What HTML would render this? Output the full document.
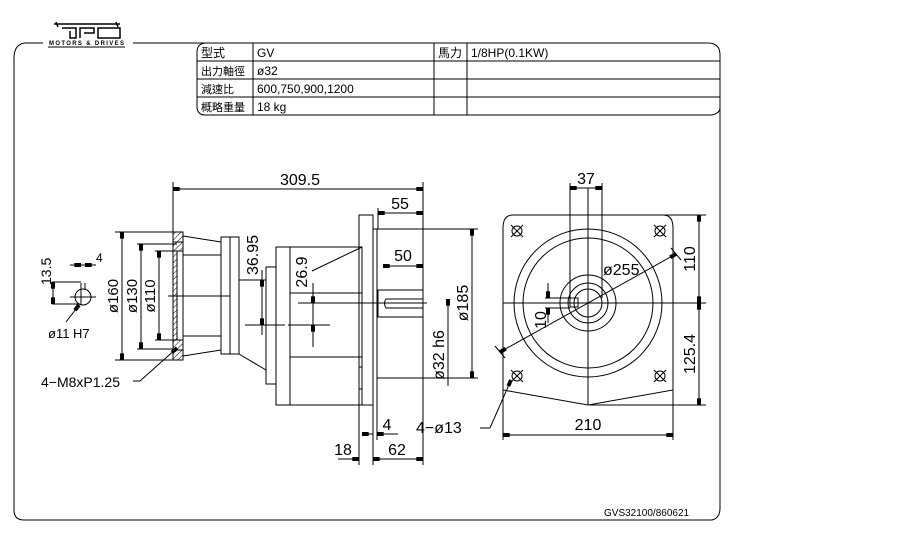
<!DOCTYPE html>
<html><head><meta charset="utf-8"><style>
html,body{margin:0;padding:0;background:#fff;}
svg{display:block}
text{font-family:"Liberation Sans","Noto Sans CJK TC",sans-serif;fill:#000}
</style></head><body>
<svg width="907" height="540" viewBox="0 0 907 540" xmlns="http://www.w3.org/2000/svg">
<defs>
<pattern id="h" width="4" height="4" patternUnits="userSpaceOnUse" patternTransform="rotate(45)"><line x1="0" y1="0" x2="0" y2="4" stroke="#000" stroke-width="1"/></pattern>
<marker id="a" viewBox="0 0 10 6" refX="10" refY="3" markerWidth="8" markerHeight="4" orient="auto-start-reverse"><rect x="0" y="0" width="10" height="6" fill="#000"/></marker>
</defs>
<g fill="none" stroke="#000" stroke-width="1">
<path d="M43,43 L24,43 Q14,45 14,58 L14,510 Q14,520 24,520 L712,520 Q720,518 720,508 L720,55 Q720,43 708,43 L133,43"/>
<path d="M205,43 Q197,44 197,52 L197,108 Q198,115 205,115 L712,115 Q720,113 720,108"/>
<line x1="197" y1="61" x2="720" y2="61"/><line x1="197" y1="79" x2="720" y2="79"/><line x1="197" y1="97" x2="720" y2="97"/>
<line x1="253" y1="43" x2="253" y2="115"/><line x1="434" y1="43" x2="434" y2="115"/><line x1="467" y1="43" x2="467" y2="115"/>
</g>
<g stroke="#000" fill="none" stroke-width="1.5">
<path d="M54,24 L120,24 M56,22 L58,27 M116,22 L118,27"/>
<path d="M62,28 L76,28 L76,38 L70,38 L70,31 M80,38 L80,28 L94,28 L94,33 L84,33 M98,28 L120,28 L120,38 L98,38 Z"/>
</g>
<line x1="48" y1="47" x2="125" y2="47" stroke="#000"/>
<text x="49" y="45" font-size="6" font-weight="bold" textLength="75">MOTORS &amp; DRIVES</text>
<g font-size="12">
<text x="201" y="57">型式</text><text x="257" y="57">GV</text><text x="438" y="57">馬力</text><text x="471" y="57">1/8HP(0.1KW)</text>
<text x="201" y="75" font-size="11">出力軸徑</text><text x="257" y="75">ø32</text>
<text x="201" y="93" font-size="11">減速比</text><text x="257" y="93">600,750,900,1200</text>
<text x="201" y="111" font-size="11">概略重量</text><text x="257" y="111">18 kg</text>
</g>
<g fill="none" stroke="#000" stroke-width="1">
<rect x="173" y="232" width="10" height="128" fill="url(#h)"/>
<rect x="177" y="251" width="6" height="89" fill="#fff"/>
<line x1="173" y1="242" x2="183" y2="242"/><line x1="173" y1="350" x2="183" y2="350"/>
<line x1="183" y1="236" x2="221" y2="242"/><line x1="183" y1="356" x2="221" y2="350"/>
<line x1="183" y1="255" x2="221" y2="255"/><line x1="183" y1="336" x2="221" y2="336"/>
<rect x="221" y="237" width="18" height="117"/><line x1="230" y1="237" x2="230" y2="354"/>
<line x1="239" y1="354" x2="266" y2="370"/>
<rect x="266" y="267" width="10" height="117"/>
<rect x="276" y="247" width="86" height="158"/><line x1="290" y1="247" x2="290" y2="405"/>
<line x1="290" y1="293" x2="362" y2="293"/><line x1="290" y1="357" x2="362" y2="357"/>
<line x1="362" y1="247" x2="312" y2="271"/>
<rect x="359" y="215" width="14" height="190"/>
<line x1="373" y1="229" x2="377" y2="229"/><line x1="377" y1="229" x2="377" y2="378"/>
<path d="M359,367 L362,367 L362,389 L359,389"/>
<rect x="378" y="290" width="45" height="27"/>
<path d="M423,299 L386,299 Q383,303 386,308 L423,308"/>
<line x1="168" y1="296" x2="230" y2="296"/>
<line x1="239" y1="280" x2="266" y2="280"/>
<line x1="245" y1="325" x2="285" y2="325"/>
<line x1="298" y1="303" x2="427" y2="303"/>
<line x1="288" y1="325" x2="330" y2="325"/>
<line x1="377" y1="229" x2="478" y2="229"/><line x1="377" y1="378" x2="478" y2="378"/>
<line x1="173" y1="182" x2="173" y2="232"/><line x1="423" y1="182" x2="423" y2="465"/>
<line x1="173" y1="189" x2="423" y2="189" marker-start="url(#a)" marker-end="url(#a)"/>
<line x1="378" y1="208" x2="378" y2="229"/>
<line x1="378" y1="213" x2="423" y2="213" marker-start="url(#a)" marker-end="url(#a)"/>
<line x1="383" y1="266" x2="423" y2="266" marker-start="url(#a)" marker-end="url(#a)"/>
<line x1="472" y1="229" x2="472" y2="378" marker-start="url(#a)" marker-end="url(#a)"/>
<line x1="448" y1="299" x2="448" y2="386"/>
<line x1="448" y1="299" x2="448" y2="312" marker-start="url(#a)"/>
<line x1="115" y1="232" x2="173" y2="232"/><line x1="115" y1="360" x2="173" y2="360"/>
<line x1="122" y1="232" x2="122" y2="360" marker-start="url(#a)" marker-end="url(#a)"/>
<line x1="137" y1="244" x2="177" y2="244"/><line x1="137" y1="349" x2="177" y2="349"/>
<line x1="141" y1="244" x2="141" y2="349" marker-start="url(#a)" marker-end="url(#a)"/>
<line x1="155" y1="251" x2="177" y2="251"/><line x1="155" y1="340" x2="177" y2="340"/>
<line x1="159" y1="251" x2="159" y2="340" marker-start="url(#a)" marker-end="url(#a)"/>
<line x1="262" y1="270" x2="262" y2="335"/>
<line x1="262" y1="300" x2="262" y2="280" marker-end="url(#a)"/><line x1="262" y1="305" x2="262" y2="325" marker-end="url(#a)"/>
<line x1="313" y1="283" x2="313" y2="347"/>
<line x1="313" y1="283" x2="313" y2="303" marker-end="url(#a)"/><line x1="313" y1="345" x2="313" y2="325" marker-end="url(#a)"/>
<circle cx="83" cy="297" r="8"/>
<line x1="70" y1="297" x2="96" y2="297"/><line x1="81" y1="283" x2="81" y2="305"/><line x1="85" y1="283" x2="85" y2="290"/>
<line x1="52" y1="282" x2="81" y2="282"/><line x1="52" y1="304" x2="80" y2="304"/>
<line x1="53" y1="282" x2="53" y2="304" marker-start="url(#a)" marker-end="url(#a)"/>
<line x1="70" y1="265" x2="81" y2="265" marker-end="url(#a)"/><line x1="96" y1="265" x2="85" y2="265" marker-end="url(#a)"/>
<line x1="81" y1="265" x2="85" y2="265"/>
<line x1="66" y1="322" x2="79" y2="305" marker-end="url(#a)"/>
<line x1="133" y1="381" x2="140" y2="381"/><line x1="140" y1="381" x2="177" y2="348" marker-end="url(#a)"/>
<line x1="359" y1="405" x2="359" y2="465"/><line x1="373" y1="405" x2="373" y2="465"/><line x1="377" y1="378" x2="377" y2="440"/>
<line x1="338" y1="459" x2="359" y2="459" marker-end="url(#a)"/>
<line x1="373" y1="459" x2="423" y2="459" marker-start="url(#a)" marker-end="url(#a)"/>
<line x1="362" y1="434" x2="373" y2="434" marker-start="url(#a)"/>
<line x1="377" y1="434" x2="398" y2="434"/>
<line x1="383" y1="434" x2="377" y2="434" marker-end="url(#a)"/>
<path d="M513,215 L663,215 Q673,215 673,228 L673,390 L588,405 L503,390 L503,228 Q503,215 513,215 Z"/>
<circle cx="588" cy="303" r="74"/><circle cx="588" cy="303" r="65"/>
<circle cx="588" cy="303" r="28"/><circle cx="588" cy="303" r="20"/><circle cx="588" cy="303" r="14"/>
<rect x="570" y="298" width="8" height="9"/>
<g>
<circle cx="517" cy="231" r="5"/><line x1="511" y1="225" x2="523" y2="237"/><line x1="523" y1="225" x2="511" y2="237"/>
<circle cx="660" cy="231" r="5"/><line x1="654" y1="225" x2="666" y2="237"/><line x1="666" y1="225" x2="654" y2="237"/>
<circle cx="517" cy="376" r="5"/><line x1="511" y1="370" x2="523" y2="382"/><line x1="523" y1="370" x2="511" y2="382"/>
<circle cx="660" cy="376" r="5"/><line x1="654" y1="370" x2="666" y2="382"/><line x1="666" y1="370" x2="654" y2="382"/>
</g>
<line x1="503" y1="303" x2="706" y2="303"/><line x1="588" y1="188" x2="588" y2="405"/>
<line x1="570" y1="183" x2="570" y2="298"/><line x1="602" y1="183" x2="602" y2="298"/>
<line x1="570" y1="188" x2="602" y2="188" marker-start="url(#a)" marker-end="url(#a)"/>
<line x1="500" y1="352" x2="676" y2="254" marker-start="url(#a)" marker-end="url(#a)"/>
<line x1="495" y1="346" x2="505" y2="358"/><line x1="671" y1="248" x2="681" y2="260"/>
<line x1="503" y1="390" x2="503" y2="440"/><line x1="673" y1="390" x2="673" y2="440"/>
<line x1="503" y1="435" x2="673" y2="435" marker-start="url(#a)" marker-end="url(#a)"/>
<line x1="663" y1="215" x2="706" y2="215"/><line x1="590" y1="405" x2="706" y2="405"/>
<line x1="699" y1="215" x2="699" y2="303" marker-start="url(#a)" marker-end="url(#a)"/>
<line x1="699" y1="303" x2="699" y2="405" marker-start="url(#a)" marker-end="url(#a)"/>
<line x1="548" y1="283" x2="548" y2="298" marker-end="url(#a)"/><line x1="548" y1="323" x2="548" y2="308" marker-end="url(#a)"/>
<line x1="545" y1="298" x2="570" y2="298"/><line x1="545" y1="308" x2="570" y2="308"/>
<line x1="480" y1="428" x2="490" y2="428"/><line x1="490" y1="428" x2="511" y2="380" marker-end="url(#a)"/>
</g>
<g font-size="16">
<text x="300" y="185" text-anchor="middle">309.5</text>
<text x="400" y="209" text-anchor="middle">55</text>
<text x="403" y="261" text-anchor="middle">50</text>
<text x="586" y="184" text-anchor="middle">37</text>
<text x="588" y="430" text-anchor="middle">210</text>
<text x="603" y="275">ø255</text>
<text x="343" y="455" text-anchor="middle">18</text>
<text x="397" y="455" text-anchor="middle">62</text>
<text x="387" y="430" text-anchor="middle">4</text>
<text x="416" y="433">4−ø13</text>
<text x="41" y="387" font-size="14">4−M8xP1.25</text>
<text x="48" y="338" font-size="13">ø11  H7</text>
<text x="96" y="262" font-size="12">4</text>
<text transform="translate(51,285) rotate(-90)" font-size="14">13.5</text>
<text transform="translate(118,296) rotate(-90)" text-anchor="middle" font-size="15">ø160</text>
<text transform="translate(137,296) rotate(-90)" text-anchor="middle" font-size="15">ø130</text>
<text transform="translate(155,296) rotate(-90)" text-anchor="middle" font-size="15">ø110</text>
<text transform="translate(258,255) rotate(-90)" text-anchor="middle">36.95</text>
<text transform="translate(307,272) rotate(-90)" text-anchor="middle">26.9</text>
<text transform="translate(468,303) rotate(-90)" text-anchor="middle">ø185</text>
<text transform="translate(444,355) rotate(-90)" text-anchor="middle">ø32 h6</text>
<text transform="translate(546,320) rotate(-90)" text-anchor="middle">10</text>
<text transform="translate(695,259) rotate(-90)" text-anchor="middle">110</text>
<text transform="translate(695,354) rotate(-90)" text-anchor="middle">125.4</text>
</g>
<text x="604" y="516" font-size="10">GVS32100/860621</text>
</svg>
</body></html>
